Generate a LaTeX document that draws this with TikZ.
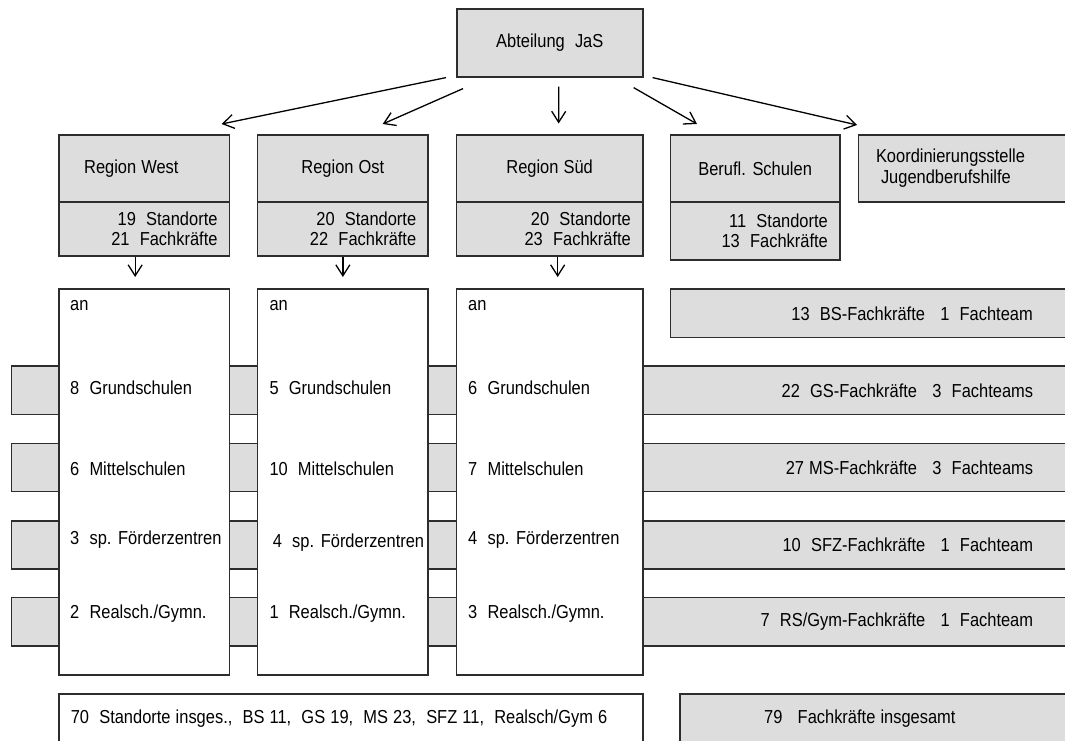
\documentclass[tikz,border=0pt]{standalone}
\usepackage{fontspec}
\setmainfont{Liberation Sans}[FakeStretch=0.875]
\usetikzlibrary{arrows.meta}
\definecolor{kastengrau}{RGB}{221,221,221}
\definecolor{randgrau}{RGB}{45,45,45}

\begin{document}
\begin{tikzpicture}[x=1pt, y=-1pt,
  font=\fontsize{18.8}{20.5}\selectfont,
  every node/.append style={execute at begin node={\spaceskip 5.1pt\relax}},
  kasten/.style={draw=randgrau, fill=kastengrau, line width=1.6pt, anchor=north west, inner sep=0pt},
  zahl/.style={kasten, minimum height=54, align=right, inner xsep=12},
  balken/.style={kasten, minimum height=48.4, align=right, inner xsep=47.7},
  liste/.style={draw=randgrau, fill=white, line width=1.6pt, anchor=north west, minimum width=170.7, minimum height=385.7},
  eintrag/.style={anchor=west, inner sep=0pt},
  pfeil/.style={-{Straight Barb[length=11pt,width=14pt]}, line width=1.3pt}]
  \useasboundingbox (0,0) rectangle (1065,740);
  \clip (0,0) rectangle (1065,740);

  \node[kasten, minimum width=186, minimum height=68] (abt) at (456,8) {Abteilung~ JaS};

  % Regionen
  \node[kasten, minimum width=170.7, minimum height=67, align=left, text width=120, inner xsep=25.3] (west) at (58,134) {Region West};
  \node[kasten, minimum width=170.7, minimum height=67] (ost) at (256.7,134) {Region Ost};
  \node[kasten, minimum width=186.3, minimum height=67] (sued) at (455.7,134) {Region Süd};
  \node[kasten, minimum width=169.3, minimum height=67] (beruf) at (669.7,134) {Berufl. Schulen};
  \node[kasten, minimum width=235, minimum height=67, align=left, text width=200, inner xsep=17.3] (koord) at (857.7,134)
    {Koordinierungsstelle\\\hspace*{5pt}Jugendberufshilfe};

  \node[zahl, minimum width=170.7, text width=146.7] (westzahl) at (58,201) {19~ Standorte\\21~ Fachkräfte};
  \node[zahl, minimum width=170.7, text width=146.7] (ostzahl) at (256.7,201) {20~ Standorte\\22~ Fachkräfte};
  \node[zahl, minimum width=186.3, text width=162.3] (suedzahl) at (455.7,201) {20~ Standorte\\23~ Fachkräfte};
  \node[zahl, minimum width=169.3, minimum height=58, text width=145.3] (berufzahl) at (669.7,201) {11~ Standorte\\13~ Fachkräfte};

  % Fachteams
  \node[balken, minimum width=410, text width=314.6] (bs) at (669.7,288.3) {13~ BS-Fachkräfte~~ 1~ Fachteam};
  \node[balken, minimum width=1069.3, text width=973.9] (gs) at (10.7,365.3) {22~ GS-Fachkräfte~~ 3~ Fachteams};
  \node[balken, minimum width=1069.3, text width=973.9, minimum height=48] (ms) at (10.7,442.7) {27 MS-Fachkräfte~~ 3~ Fachteams};
  \node[balken, minimum width=1069.3, text width=973.9] (sfz) at (10.7,520) {10~ SFZ-Fachkräfte~~ 1~ Fachteam};
  \node[balken, minimum width=1069.3, text width=973.9] (rs) at (10.7,596.7) {7~ RS/Gym-Fachkräfte~~ 1~ Fachteam};

  % Schulen
  \node[liste] (westliste) at (58,288.3) {};
  \node[liste] (ostliste) at (256.7,288.3) {};
  \node[liste, minimum width=186.3] (suedliste) at (455.7,288.3) {};

  \node[eintrag] (westan) at (70,305.7) {an};
  \node[eintrag] (westgs) at (70,387.3) {8~ Grundschulen};
  \node[eintrag] (westms) at (70,468.3) {6~ Mittelschulen};
  \node[eintrag] (westsfz) at (70,540) {3~ sp. Förderzentren};
  \node[eintrag] (westrs) at (70,613.3) {2~ Realsch./Gymn.};

  \node[eintrag] (ostan) at (269.3,305.7) {an};
  \node[eintrag] (ostgs) at (269.3,387.3) {5~ Grundschulen};
  \node[eintrag] (ostms) at (269.3,468.3) {10~ Mittelschulen};
  \node[eintrag] (ostsfz) at (272.7,542.7) {4~ sp. Förderzentren};
  \node[eintrag] (ostrs) at (269.3,613.3) {1~ Realsch./Gymn.};

  \node[eintrag] (suedan) at (468,305.7) {an};
  \node[eintrag] (suedgs) at (468,387.3) {6~ Grundschulen};
  \node[eintrag] (suedms) at (468,468.3) {7~ Mittelschulen};
  \node[eintrag] (suedsfz) at (468,540) {4~ sp. Förderzentren};
  \node[eintrag] (suedrs) at (468,613.3) {3~ Realsch./Gymn.};

  % Summen
  \node[kasten, fill=white, minimum width=584, minimum height=50, align=left, text width=560, inner xsep=12] (summe) at (58,693.3)
    {70~ Standorte insges.,~ BS 11,~ GS 19,~ MS 23,~ SFZ 11,~ Realsch/Gym 6};
  \node[kasten, minimum width=400, minimum height=50, align=left, text width=300, inner xsep=84] (gesamt) at (679.3,693.3)
    {79~~ Fachkräfte insgesamt};

  \draw[pfeil] ([xshift=-10pt]abt.south west) -- ([shift={(-8.7pt,10pt)}]west.north east);
  \draw[pfeil] ([shift={(7pt,-11pt)}]abt.south west) -- ([shift={(-46.3pt,10pt)}]ost.north east);
  \draw[pfeil] ([shift={(9pt,-9pt)}]abt.south) -- ([shift={(9pt,10.5pt)}]sued.north);
  \draw[pfeil] ([shift={(-10pt,-10pt)}]abt.south east) -- ([shift={(27.3pt,10pt)}]beruf.north west);
  \draw[pfeil] ([xshift=9pt]abt.south east) -- ([shift={(-0.7pt,9pt)}]koord.north west);
  \draw[pfeil] ([xshift=-9pt]westzahl.south) -- ([shift={(-9pt,11.3pt)}]westliste.north);
  \draw[pfeil] (ostzahl.south) -- ([yshift=11.3pt]ostliste.north);
  \draw[pfeil] ([xshift=8pt]suedzahl.south) -- ([shift={(8pt,11.3pt)}]suedliste.north);
\end{tikzpicture}
\end{document}
